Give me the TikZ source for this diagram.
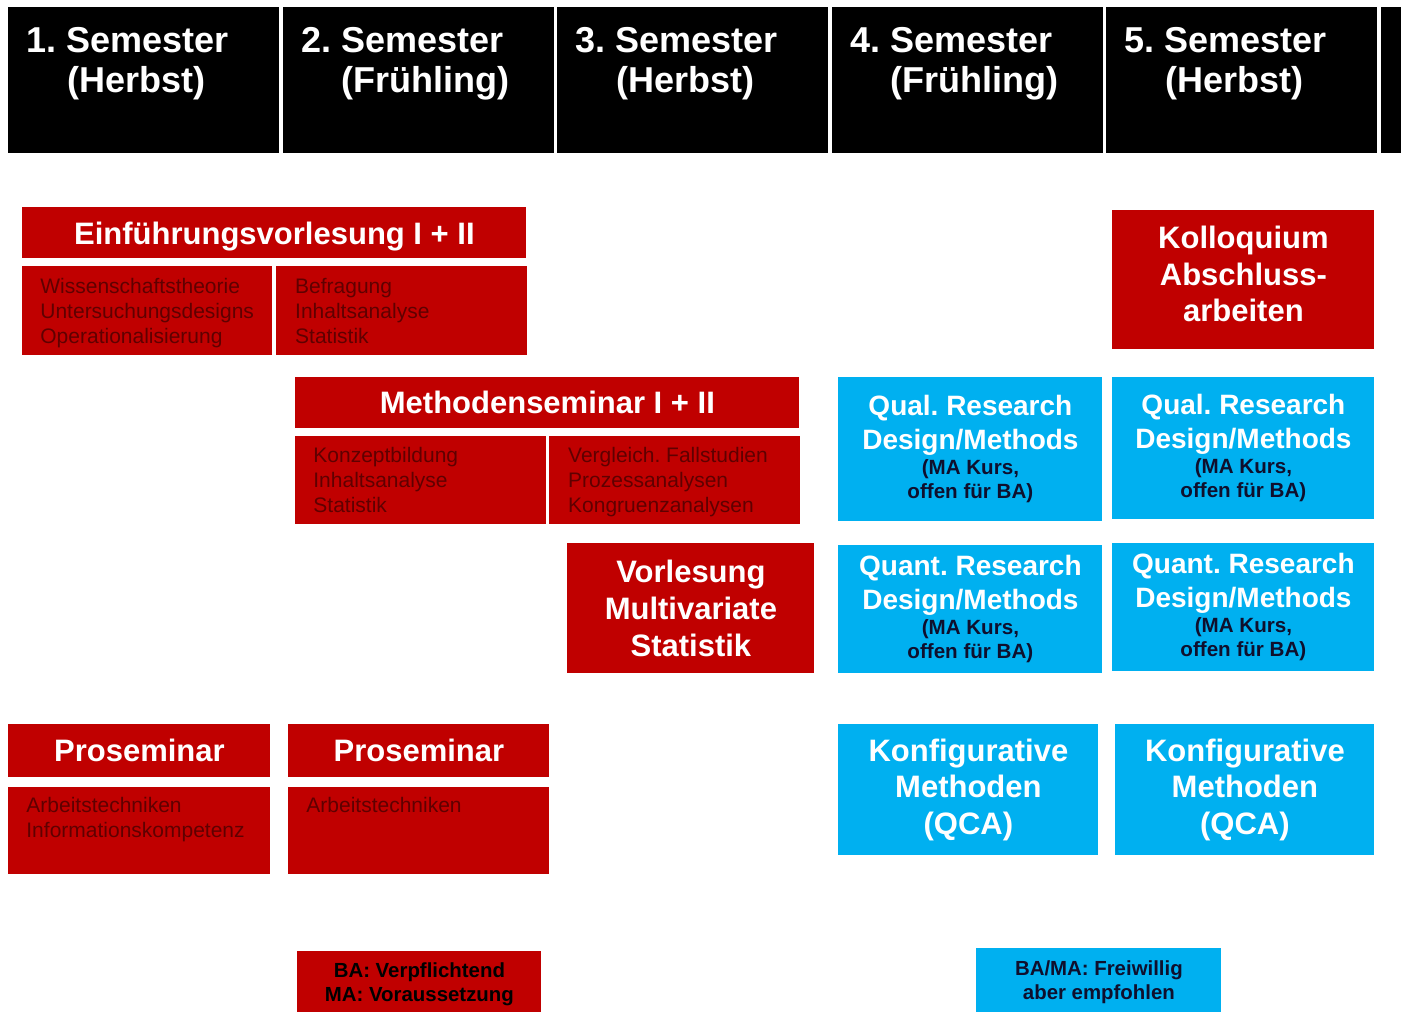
\documentclass[tikz,border=0pt]{standalone}
\usepackage{fontspec}
\setmainfont{Liberation Sans}
\usepackage{xcolor}
\usepackage{tikz}
\usetikzlibrary{positioning}

\definecolor{uniRed}{RGB}{192,0,0}
\definecolor{uniBlue}{RGB}{0,176,240}
\definecolor{subRed}{RGB}{95,0,0}
\definecolor{noteNavy}{RGB}{15,15,45}
\newcommand{\maNote}{\fontsize{10.3}{12}\selectfont\color{noteNavy}}

\begin{document}
\frenchspacing
\begin{tikzpicture}[x=0.5pt, y=-0.5pt]
        %[every node/.style={scale=1}]
        \tikzstyle{semester} = [fill=black, anchor=north west, inner sep=0pt,
            minimum width=135.5pt, minimum height=73pt]
        \tikzstyle{semesterText} = [white, anchor=base west, inner sep=0pt,
            font=\fontsize{18}{19.5}\selectfont\bfseries]
        \tikzstyle{redBox} = [fill=uniRed, text=white, anchor=north west, inner sep=0pt,
            align=center, font=\fontsize{15.5}{18.3}\selectfont\bfseries]
        \tikzstyle{subBox} = [fill=uniRed, anchor=north west, inner sep=0pt]
        \tikzstyle{subText} = [text=subRed, align=left, inner sep=0pt,
            font=\fontsize{10.5}{12.5}\selectfont]
        \tikzstyle{blueBox} = [fill=uniBlue, text=white, anchor=north west, inner sep=0pt,
            align=center, font=\fontsize{14}{17}\selectfont\bfseries]
        \tikzstyle{legendText} = [inner sep=0pt, align=center,
            font=\fontsize{10.2}{12}\selectfont\bfseries]

        \useasboundingbox (0,0) rectangle (1401,1011);

        % semester heads
        \foreach \i/\season in {1/Herbst, 2/Frühling, 3/Herbst, 4/Frühling, 5/Herbst} {
            \node[semester] (nodeSem\i) at ({8+274.5*(\i-1)},7) {};
            \node[semesterText] (nodeSem\i Title) at ({26.5+274.5*(\i-1)},53) {\i. Semester};
            \node[semesterText] (nodeSem\i Season) at ({67+274.5*(\i-1)},92) {(\season)};
        }
        \node[semester] (nodeSem6) at (1381,7) {};

        % Einfuehrungsvorlesung
        \node[redBox, minimum width=252pt, minimum height=25.5pt, text depth=0pt] (nodeEinf)
            at (22,207) {Einführungsvorlesung I + II};
        \node[subBox, minimum width=125pt, minimum height=44.5pt,
            below=3.5pt of nodeEinf.south west, anchor=north west] (nodeEinfL) {};
        \node[subBox, minimum width=125.5pt, minimum height=44.5pt,
            right=1.5pt of nodeEinfL.north east, anchor=north west] (nodeEinfR) {};
        \node[subText, below right=6pt and 9pt of nodeEinfL.north west] (nodeEinfLText)
            {Wissenschaftstheorie\\Untersuchungsdesigns\\Operationalisierung};
        \node[subText, below right=6pt and 9.5pt of nodeEinfR.north west] (nodeEinfRText)
            {Befragung\\Inhaltsanalyse\\Statistik};

        % Methodenseminar
        \node[redBox, minimum width=252pt, minimum height=25.5pt] (nodeMeth) at (295,377)
            {Methodenseminar I + II};
        \node[subBox, minimum width=125.5pt, minimum height=44pt,
            below=3.5pt of nodeMeth.south west, anchor=north west] (nodeMethL) {};
        \node[subBox, minimum width=125.5pt, minimum height=44pt,
            right=1pt of nodeMethL.north east, anchor=north west] (nodeMethR) {};
        \node[subText, below right=5.5pt and 9pt of nodeMethL.north west] (nodeMethLText)
            {Konzeptbildung\\Inhaltsanalyse\\Statistik};
        \node[subText, below right=5.5pt and 9.5pt of nodeMethR.north west] (nodeMethRText)
            {Vergleich. Fallstudien\\Prozessanalysen\\Kongruenzanalysen};

        \node[redBox, minimum width=123.5pt, minimum height=65pt] (nodeVorl) at (567,543)
            {Vorlesung\\Multivariate\\Statistik};
        \node[redBox, minimum width=131pt, minimum height=69.5pt, text depth=6pt] (nodeKoll)
            at (1112,210) {Kolloquium\\Abschluss-\\arbeiten};

        % MA Kurse
        \node[blueBox, minimum width=132pt, minimum height=72pt] (nodeQual4) at (838,377)
            {Qual. Research\\Design/Methods\\[-4.5pt]\maNote (MA Kurs,\\[-5pt]\maNote offen für BA)};
        \node[blueBox, minimum width=131pt, minimum height=71pt] (nodeQual5) at (1112,377)
            {Qual. Research\\Design/Methods\\[-4.5pt]\maNote (MA Kurs,\\[-5pt]\maNote offen für BA)};
        \node[blueBox, minimum width=132pt, minimum height=64pt] (nodeQuant4) at (838,545)
            {Quant. Research\\Design/Methods\\[-4.5pt]\maNote (MA Kurs,\\[-5pt]\maNote offen für BA)};
        \node[blueBox, minimum width=131pt, minimum height=64pt] (nodeQuant5) at (1112,543)
            {Quant. Research\\Design/Methods\\[-4.5pt]\maNote (MA Kurs,\\[-5pt]\maNote offen für BA)};
        \node[blueBox, minimum width=130pt, minimum height=65.5pt,
            font=\fontsize{15.5}{18.3}\selectfont\bfseries] (nodeKonf4) at (838,724)
            {Konfigurative\\Methoden\\(QCA)};
        \node[blueBox, minimum width=129.5pt, minimum height=65.5pt,
            font=\fontsize{15.5}{18.3}\selectfont\bfseries] (nodeKonf5) at (1115,724)
            {Konfigurative\\Methoden\\(QCA)};

        % Proseminare
        \node[redBox, minimum width=131pt, minimum height=26.5pt] (nodePros1) at (8,724)
            {Proseminar};
        \node[subBox, minimum width=131pt, minimum height=43.5pt,
            below=4.5pt of nodePros1.south west, anchor=north west] (nodePros1Sub) {};
        \node[subText, below right=5pt and 9pt of nodePros1Sub.north west] (nodePros1Text)
            {Arbeitstechniken\\Informationskompetenz};
        \node[redBox, minimum width=130.5pt, minimum height=26.5pt] (nodePros2) at (288,724)
            {Proseminar};
        \node[subBox, minimum width=130.5pt, minimum height=43.5pt,
            below=4.5pt of nodePros2.south west, anchor=north west] (nodePros2Sub) {};
        \node[subText, below right=5pt and 9pt of nodePros2Sub.north west] (nodePros2Text)
            {Arbeitstechniken};

        % Legende
        \node[subBox, minimum width=122pt, minimum height=33pt] (nodeLegRed) at (297,951) {};
        \node[legendText, below=5.5pt of nodeLegRed.north] (nodeLegRedText)
            {BA: Verpflichtend\\MA: Voraussetzung};
        \node[fill=uniBlue, anchor=north west, inner sep=0pt, minimum width=122.5pt,
            minimum height=33pt] (nodeLegBlue) at (976,948) {};
        \node[legendText, text=noteNavy, below=6pt of nodeLegBlue.north] (nodeLegBlueText)
            {BA/MA: Freiwillig\\aber empfohlen};
    \end{tikzpicture}
\end{document}
